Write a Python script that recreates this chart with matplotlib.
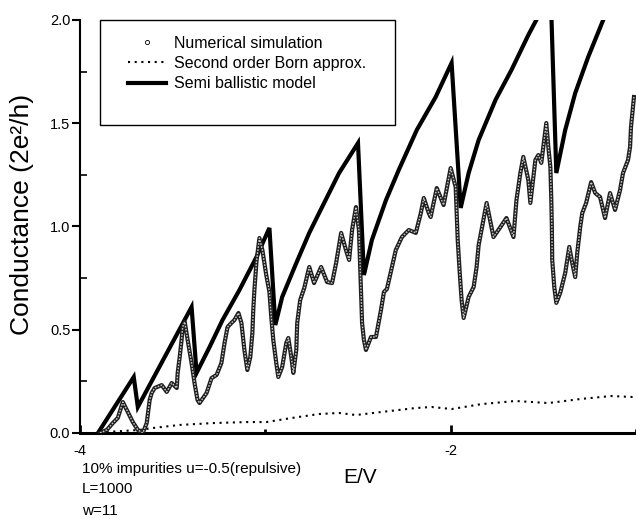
import matplotlib
matplotlib.use("Agg")
import matplotlib.pyplot as plt
from matplotlib.lines import Line2D
from matplotlib.patches import Rectangle

plt.rcParams['font.family'] = ['Liberation Sans', 'DejaVu Sans']

# numerical simulation
sim_E = [-3.892, -3.855, -3.823, -3.796, -3.769, -3.742, -3.715, -3.688, -3.661, -3.640,
         -3.624, -3.613, -3.597, -3.559, -3.532, -3.505, -3.478, -3.473, -3.462, -3.452,
         -3.446, -3.435, -3.419, -3.398, -3.382, -3.366, -3.355, -3.317, -3.290, -3.263,
         -3.237, -3.220, -3.204, -3.183, -3.167, -3.145, -3.129, -3.113, -3.097, -3.081,
         -3.070, -3.065, -3.059, -3.048, -3.032, -3.016, -2.995, -2.978, -2.968, -2.957,
         -2.941, -2.930, -2.909, -2.887, -2.876, -2.860, -2.849, -2.833, -2.828, -2.812,
         -2.790, -2.763, -2.737, -2.699, -2.667, -2.640, -2.618, -2.591, -2.565, -2.548,
         -2.532, -2.511, -2.495, -2.489, -2.484, -2.478, -2.468, -2.457, -2.430, -2.403,
         -2.376, -2.360, -2.344, -2.317, -2.296, -2.263, -2.226, -2.188, -2.161, -2.145,
         -2.118, -2.108, -2.075, -2.038, -2.000, -1.973, -1.968, -1.962, -1.952, -1.941,
         -1.930, -1.903, -1.876, -1.860, -1.849, -1.806, -1.769, -1.731, -1.699, -1.661,
         -1.645, -1.624, -1.608, -1.581, -1.570, -1.543, -1.527, -1.511, -1.489, -1.484,
         -1.473, -1.462, -1.457, -1.454, -1.452, -1.441, -1.430, -1.409, -1.382, -1.360,
         -1.344, -1.328, -1.317, -1.301, -1.290, -1.269, -1.242, -1.220, -1.194, -1.167,
         -1.140, -1.113, -1.086, -1.070, -1.043, -1.032, -1.027, -1.011]
sim_G = [0.000, 0.015, 0.048, 0.073, 0.150, 0.102, 0.053, 0.015, 0.000, 0.048,
         0.160, 0.194, 0.218, 0.232, 0.199, 0.242, 0.218, 0.291, 0.368, 0.450,
         0.513, 0.538, 0.450, 0.339, 0.242, 0.160, 0.145, 0.194, 0.266, 0.281,
         0.339, 0.436, 0.513, 0.533, 0.547, 0.581, 0.533, 0.402, 0.305, 0.368,
         0.484, 0.596, 0.692, 0.828, 0.944, 0.886, 0.765, 0.683, 0.562, 0.450,
         0.339, 0.271, 0.320, 0.436, 0.460, 0.368, 0.291, 0.402, 0.533, 0.644,
         0.702, 0.804, 0.726, 0.804, 0.731, 0.726, 0.823, 0.969, 0.886, 0.838,
         0.983, 1.094, 0.983, 0.823, 0.692, 0.533, 0.450, 0.402, 0.465, 0.465,
         0.596, 0.683, 0.697, 0.804, 0.886, 0.949, 0.983, 0.969, 1.065, 1.138,
         1.065, 1.046, 1.186, 1.104, 1.283, 1.191, 1.080, 0.935, 0.789, 0.644,
         0.557, 0.659, 0.707, 0.804, 0.910, 1.114, 0.949, 0.998, 1.041, 0.949,
         1.128, 1.259, 1.337, 1.225, 1.114, 1.322, 1.346, 1.308, 1.467, 1.501,
         1.385, 1.288, 1.128, 0.998, 0.838, 0.707, 0.630, 0.678, 0.775, 0.901,
         0.823, 0.755, 0.872, 0.998, 1.065, 1.114, 1.215, 1.162, 1.143, 1.041,
         1.162, 1.080, 1.177, 1.259, 1.322, 1.385, 1.482, 1.627]

# second order Born approximation
born_E = [-3.892, -3.855, -3.677, -3.608, -3.462, -3.285, -3.102, -2.995, -2.855, -2.710,
          -2.602, -2.511, -2.371, -2.188, -2.102, -1.995, -1.833, -1.651, -1.473, -1.296,
          -1.134, -1.011]
born_G = [0.000, 0.005, 0.015, 0.024, 0.039, 0.048, 0.053, 0.053, 0.073, 0.092,
          0.097, 0.087, 0.102, 0.121, 0.126, 0.116, 0.140, 0.155, 0.145, 0.165,
          0.179, 0.174]

# semi ballistic model (sawtooth, runs off the top twice)
semi_E = [-3.903, -3.710, -3.688, -3.398, -3.371, -3.301, -3.231, -3.140, -3.048, -2.978,
          -2.946, -2.909, -2.833, -2.763, -2.710, -2.602, -2.500, -2.468, -2.425, -2.349,
          -2.280, -2.183, -2.081, -1.995, -1.946, -1.903, -1.849, -1.758, -1.672, -1.581,
          -1.538, -1.460, -1.430, -1.382, -1.328, -1.258, -1.177, -1.100]
semi_G = [0.000, 0.271, 0.126, 0.610, 0.291, 0.416, 0.547, 0.692, 0.852, 0.993,
          0.523, 0.659, 0.823, 0.969, 1.065, 1.259, 1.404, 0.765, 0.935, 1.128,
          1.274, 1.467, 1.627, 1.792, 1.090, 1.259, 1.419, 1.613, 1.758, 1.927,
          2.000, 2.120, 1.259, 1.467, 1.646, 1.821, 2.000, 2.150]

fig = plt.figure(figsize=(6.36, 5.19), dpi=100)
ax = fig.add_axes([80 / 636, 86 / 519, 556 / 636, 413 / 519])

ax.plot(semi_E, semi_G, color='black', lw=3.0, solid_joinstyle='miter', zorder=3)
ax.plot(born_E, born_G, color='black', lw=1.5, linestyle=(0, (1, 2.2)), zorder=2)
# dense hollow circles -> dark tube with speckled light core
ax.plot(sim_E, sim_G, color='#1e1e1e', lw=3.0, zorder=4, solid_joinstyle='round')
ax.plot(sim_E, sim_G, color='#c8c8c8', lw=1.0, linestyle=(0, (1.2, 1.0)), zorder=5)

ax.set_xlim(-4, -1.011)
ax.set_ylim(0, 2.0)

for s in ['top', 'right']:
    ax.spines[s].set_visible(False)
ax.spines['left'].set_linewidth(1.5)
ax.spines['bottom'].set_linewidth(2.2)

ax.set_yticks([0, 0.5, 1.0, 1.5, 2.0])
ax.set_yticklabels(['0.0', '0.5', '1.0', '1.5', '2.0'])
ax.set_yticks([0.25, 0.75, 1.25, 1.75], minor=True)
ax.set_xticks([-4, -2])
ax.set_xticklabels(['-4', '-2'])
ax.set_xticks([-3, -1], minor=True)
ax.tick_params(axis='y', which='major', direction='out', length=6, width=1.5, pad=1, labelsize=10.5)
ax.tick_params(axis='y', which='minor', direction='in', length=5, width=1.2)
ax.tick_params(axis='x', which='major', direction='in', length=6, width=2, pad=8, labelsize=10.5)
ax.tick_params(axis='x', which='minor', direction='in', length=3, width=2)

# legend box
ax.add_patch(Rectangle((0.036, 0.7458), 0.5305, 0.2542, transform=ax.transAxes,
                       fill=False, lw=1.0, color='black', clip_on=False, zorder=6))
handles = [
    Line2D([], [], linestyle='none', marker='o', markersize=3, markerfacecolor='white',
           markeredgecolor='black', markeredgewidth=0.6),
    Line2D([], [], color='black', lw=1.5, linestyle=(0, (1, 2.2))),
    Line2D([], [], color='black', lw=3.0),
]
labels = ['Numerical simulation', 'Second order Born approx.', 'Semi ballistic model']
ax.legend(handles, labels, loc='upper left', bbox_to_anchor=(0.086, 0.962),
          frameon=False, fontsize=11.5, borderpad=0, borderaxespad=0,
          handlelength=2.4, handletextpad=0.5, labelspacing=0.33)

fig.text(10 / 636, (519 - 214) / 519, 'Conductance (2e²/h)', rotation=90,
         ha='left', va='center', fontsize=19)
fig.text(360 / 636, 36 / 519, 'E/V', ha='center', va='baseline', fontsize=15)
fig.text(82 / 636, 46 / 519, '10% impurities u=-0.5(repulsive)', ha='left', va='baseline', fontsize=11)
fig.text(82 / 636, 26 / 519, 'L=1000', ha='left', va='baseline', fontsize=11)
fig.text(82 / 636, 4 / 519, 'w=11', ha='left', va='baseline', fontsize=11)

fig.savefig('out.png', dpi=100)
